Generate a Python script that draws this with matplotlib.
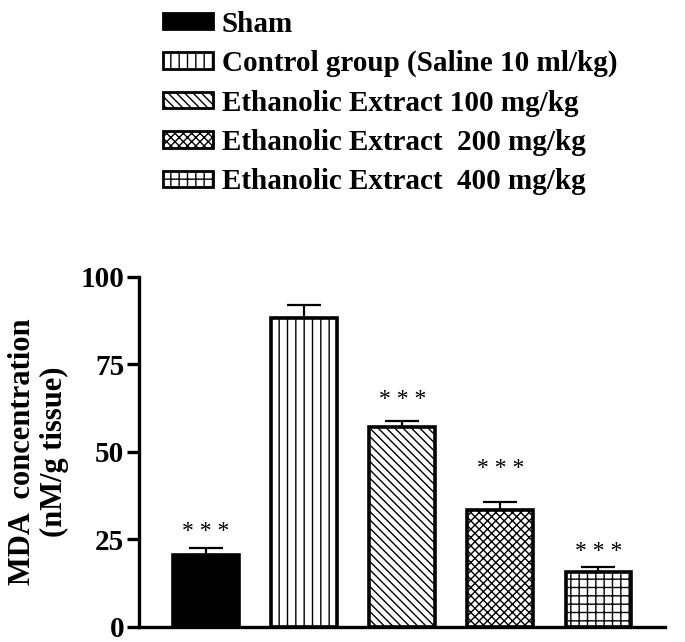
import numpy as np
import matplotlib.pyplot as plt
from matplotlib.patches import Patch

plt.rcParams['font.family'] = ['Liberation Serif', 'DejaVu Serif']
plt.rcParams['hatch.linewidth'] = 1.0

# data
groups = ["Sham",
          "Control group (Saline 10 ml/kg)",
          "Ethanolic Extract 100 mg/kg",
          "Ethanolic Extract  200 mg/kg",
          "Ethanolic Extract  400 mg/kg"]
mda = [20.6, 88.4, 57.0, 33.4, 15.8]
sem = [2.0, 3.6, 1.9, 2.4, 1.4]
stars = ["* * *", "", "* * *", "* * *", "* * *"]
star_y = [27.4, 0, 65.1, 45.4, 21.7]

colors = ["black", "white", "white", "white", "white"]
hatches = [None, "||", "\\\\\\\\", "xxxx", "++"]

fig = plt.figure(figsize=(6.85, 6.42), dpi=100)
ax = fig.add_axes([0.2029, 0.0234, 0.7679, 0.5452])

x = np.arange(len(mda))
ax.errorbar(x, mda, yerr=[np.zeros(len(sem)), sem], fmt="none",
            ecolor="black", elinewidth=1.6, capsize=12, capthick=1.6, zorder=1)
bars = ax.bar(x, mda, width=0.67, color=colors, edgecolor="black",
              linewidth=2.6, zorder=2)
for b, h in zip(bars, hatches):
    if h:
        b.set_hatch(h)

for xi, s, sy in zip(x, stars, star_y):
    if s:
        ax.text(xi, sy, s, ha="center", va="center", fontsize=17)

ax.set_xlim(-0.683, 4.678)
ax.set_ylim(0, 100)
ax.set_yticks([0, 25, 50, 75, 100])
ax.set_xticks([])
for side in ["top", "right"]:
    ax.spines[side].set_visible(False)
ax.spines["left"].set_linewidth(2.4)
ax.spines["bottom"].set_linewidth(2.4)
ax.tick_params(axis="y", length=8.5, width=2.4, labelsize=21, pad=2)
for lab in ax.get_yticklabels():
    lab.set_fontweight("bold")
ax.set_ylabel("MDA  concentration\n(nM/g tissue)", fontsize=22,
              fontweight="bold", labelpad=8, linespacing=1.15)

handles = [Patch(facecolor=c, edgecolor="black", hatch=h, linewidth=2.0)
           for c, h in zip(colors, hatches)]
fig.legend(handles, groups, loc="upper left", bbox_to_anchor=(0.2165, 1.006),
           frameon=False, prop={"weight": "bold", "size": 21},
           handlelength=1.71, handleheight=0.48, handletextpad=0.31,
           labelspacing=0.42, borderaxespad=0.1)

fig.savefig("out.png", dpi=100)
